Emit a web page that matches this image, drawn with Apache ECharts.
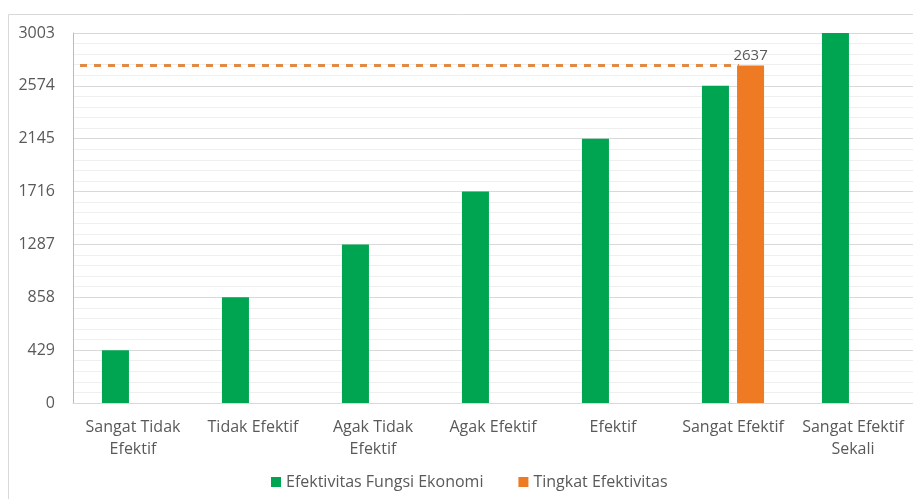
<!DOCTYPE html>
<html>
<head>
<meta charset="utf-8">
<script src="https://cdn.jsdelivr.net/npm/echarts@6/dist/echarts.min.js"></script>
<style>html,body{margin:0;padding:0;background:#fff}#c{width:913px;height:499px}</style>
</head>
<body>
<div id="c"></div>
<script>
const categories = ['Sangat Tidak\nEfektif', 'Tidak Efektif', 'Agak Tidak\nEfektif', 'Agak Efektif', 'Efektif', 'Sangat Efektif', 'Sangat Efektif\nSekali'];
const fungsiEkonomi = [429, 858, 1287, 1716, 2145, 2574, 3003];
const tingkatEfektivitas = [null, null, null, null, null, 2740, null];
const tingkatLabels = ['', '', '', '', '', '2637', ''];
const yTicks = [0, 429, 858, 1287, 1716, 2145, 2574, 3003];
const seriesNames = ['Efektivitas Fungsi Ekonomi', 'Tingkat Efektivitas'];

const FONT = 'Open Sans';
const chart = echarts.init(document.getElementById('c'));
const refValue = Math.max(...tingkatEfektivitas.filter(v => v != null));
chart.setOption({
  animation: false,
  textStyle: { fontFamily: FONT },
  graphic: [{
    type: 'rect', shape: { x: 8.5, y: 14.5, width: 920, height: 500 },
    style: { fill: 'none', stroke: '#d9d9d9', lineWidth: 1 }, z: -1
  }],
  grid: { left: 73, right: 0, top: 33, bottom: 96 },
  legend: {
    bottom: 4, left: 266, itemWidth: 10, itemHeight: 10, itemGap: 35,
    icon: 'rect',
    textStyle: { fontFamily: FONT, fontSize: 16, color: '#595959' },
    data: seriesNames
  },
  xAxis: {
    type: 'category', data: categories,
    axisTick: { show: false },
    axisLine: { lineStyle: { color: '#d9d9d9' } },
    axisLabel: { interval: 0, margin: 13, fontFamily: FONT, fontSize: 16, color: '#595959', lineHeight: 22 }
  },
  yAxis: {
    type: 'value', min: yTicks[0], max: yTicks[yTicks.length - 1], interval: yTicks[1] - yTicks[0],
    axisLine: { show: true, lineStyle: { color: '#a9bfd6' } },
    axisTick: { show: false },
    axisLabel: { margin: 18, fontFamily: FONT, fontSize: 16, color: '#595959', formatter: v => String(v) },
    splitLine: { lineStyle: { color: '#d9d9d9' } },
    minorTick: { show: false, splitNumber: 5 },
    minorSplitLine: { show: true, lineStyle: { color: '#efefef' } }
  },
  series: [
    {
      name: seriesNames[0], type: 'bar', data: fungsiEkonomi,
      barWidth: 27, barGap: '30%',
      itemStyle: { color: '#00a551' }
    },
    {
      name: seriesNames[1], type: 'bar', data: tingkatEfektivitas,
      barWidth: 27,
      itemStyle: { color: '#ee7a24' },
      label: {
        show: true, position: 'top', distance: 2,
        fontFamily: FONT, fontSize: 15, color: '#595959',
        formatter: p => tingkatLabels[p.dataIndex]
      },
      markLine: {
        silent: true, symbol: 'none', label: { show: false },
        lineStyle: { color: '#e08a45', type: [7, 7], width: 3 },
        data: [[{ x: 80, yAxis: refValue }, { x: 739, yAxis: refValue }]]
      }
    }
  ]
});
</script>
</body>
</html>
